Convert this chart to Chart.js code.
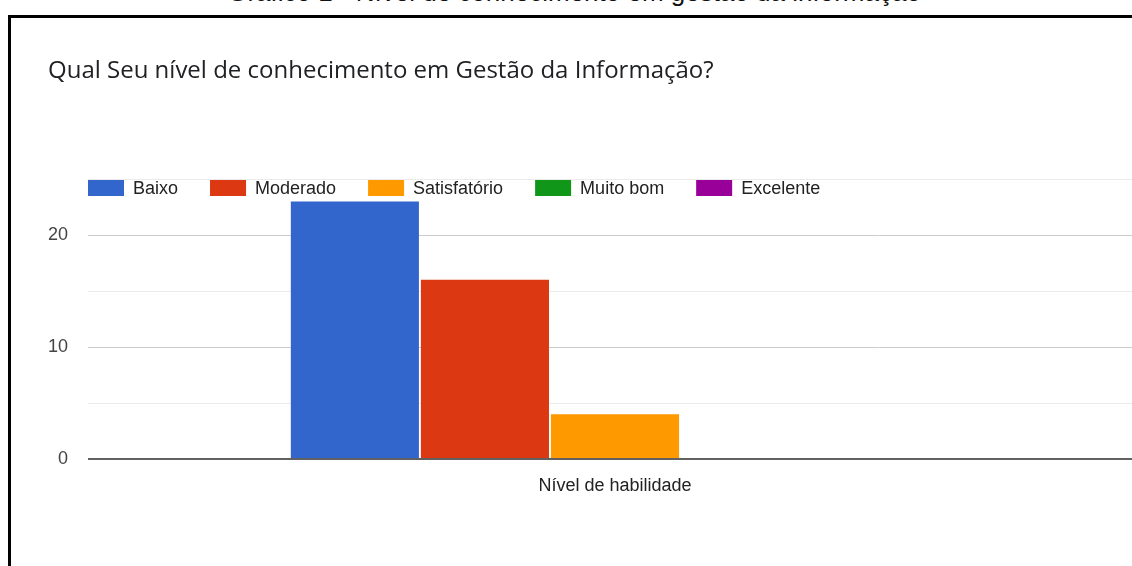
<!DOCTYPE html>
<html>
<head>
<meta charset="utf-8">
<title>Nível de conhecimento em gestão da informação</title>
<script src="https://cdn.jsdelivr.net/npm/chart.js@4.4.1/dist/chart.umd.min.js"></script>
<style>
  html, body { margin: 0; padding: 0; background: #fff; overflow: hidden; width: 1132px; height: 566px; }
  #caption {
    position: absolute; left: 0; top: -23px; width: 1148px; text-align: center;
    font-family: "Liberation Sans", Arial, sans-serif; font-size: 26px; color: #111; line-height: 30px;
  }
  #frame {
    position: absolute; left: 8px; top: 15px; width: 1200px; height: 600px;
    border-left: 3px solid #000; border-top: 3px solid #000;
  }
  #chartBox { position: absolute; left: 0; top: 0; }
</style>
</head>
<body>
<div id="caption">Gráfico 1 - Nível de conhecimento em gestão da informação</div>
<div id="frame"></div>
<div id="chartBox"><canvas id="levelChart" width="1150" height="566"></canvas></div>
<script>
const question = 'Qual Seu nível de conhecimento em Gestão da Informação?';
const categories = ['Nível de habilidade'];
const levels = ['Baixo', 'Moderado', 'Satisfatório', 'Muito bom', 'Excelente'];
const counts = [23, 16, 4, 0, 0];
const labelledTicks = [0, 10, 20];

const palette = ['#3366cc', '#dc3912', '#ff9900', '#109618', '#990099'];
const labelFont = '"Liberation Sans", Arial, sans-serif';

// legend sits inside the plot, just under the top grid line
const insetLegend = {
    id: 'insetLegend',
    afterDraw(chart) {
        const ctx = chart.ctx;
        const area = chart.chartArea;
        const boxW = 36, boxH = 16, gap = 9, spacing = 32;
        let x = area.left;
        const y = area.top + 9;
        ctx.save();
        ctx.font = '18px ' + labelFont;
        ctx.textBaseline = 'middle';
        ctx.textAlign = 'left';
        chart.data.datasets.forEach((ds) => {
            ctx.fillStyle = ds.backgroundColor;
            ctx.fillRect(x, y - boxH / 2, boxW, boxH);
            ctx.fillStyle = '#222';
            ctx.fillText(ds.label, x + boxW + gap, y + 1);
            x += boxW + gap + ctx.measureText(ds.label).width + spacing;
        });
        ctx.restore();
    },
};

function gridColor(context) {
    const v = context.tick.value;
    if (v === 0) return '#616161';
    return v % 10 === 0 ? '#cccccc' : '#ebebeb';
}

const datasets = levels.map((level, i) => ({
    label: level,
    data: [counts[i]],
    backgroundColor: palette[i],
    borderWidth: 0,
    categoryPercentage: 0.617,
    barPercentage: 0.985,
}));

new Chart(document.getElementById('levelChart').getContext('2d'), {
    type: 'bar',
    data: { labels: categories, datasets: datasets },
    options: {
        responsive: false,
        animation: false,
        devicePixelRatio: 1,
        layout: { padding: { left: 48, right: 8, top: 0, bottom: 0 } },
        plugins: {
            legend: { display: false },
            tooltip: { enabled: false },
            title: {
                display: true,
                text: question,
                align: 'start',
                color: '#202124',
                font: { family: '"Open Sans", Roboto, sans-serif', size: 24, weight: 'normal', lineHeight: 1.2 },
                padding: { top: 56.4, bottom: 93.8 },
            },
        },
        scales: {
            x: {
                grid: { display: false },
                border: { display: false },
                ticks: { color: '#222', padding: 8, font: { family: labelFont, size: 18 } },
                afterFit(scale) { scale.height = 107; },
            },
            y: {
                min: 0,
                max: 25,
                border: { display: false },
                grid: {
                    drawTicks: false,
                    color: gridColor,
                    lineWidth: (c) => (c.tick.value === 0 ? 2 : 1),
                },
                ticks: {
                    stepSize: 5,
                    padding: 20,
                    color: '#444',
                    font: { family: labelFont, size: 18 },
                    callback: (v) => (labelledTicks.includes(v) ? String(v) : ''),
                },
                afterFit(scale) { scale.width = 40; },
            },
        },
    },
    plugins: [insetLegend],
});
</script>
</body>
</html>
